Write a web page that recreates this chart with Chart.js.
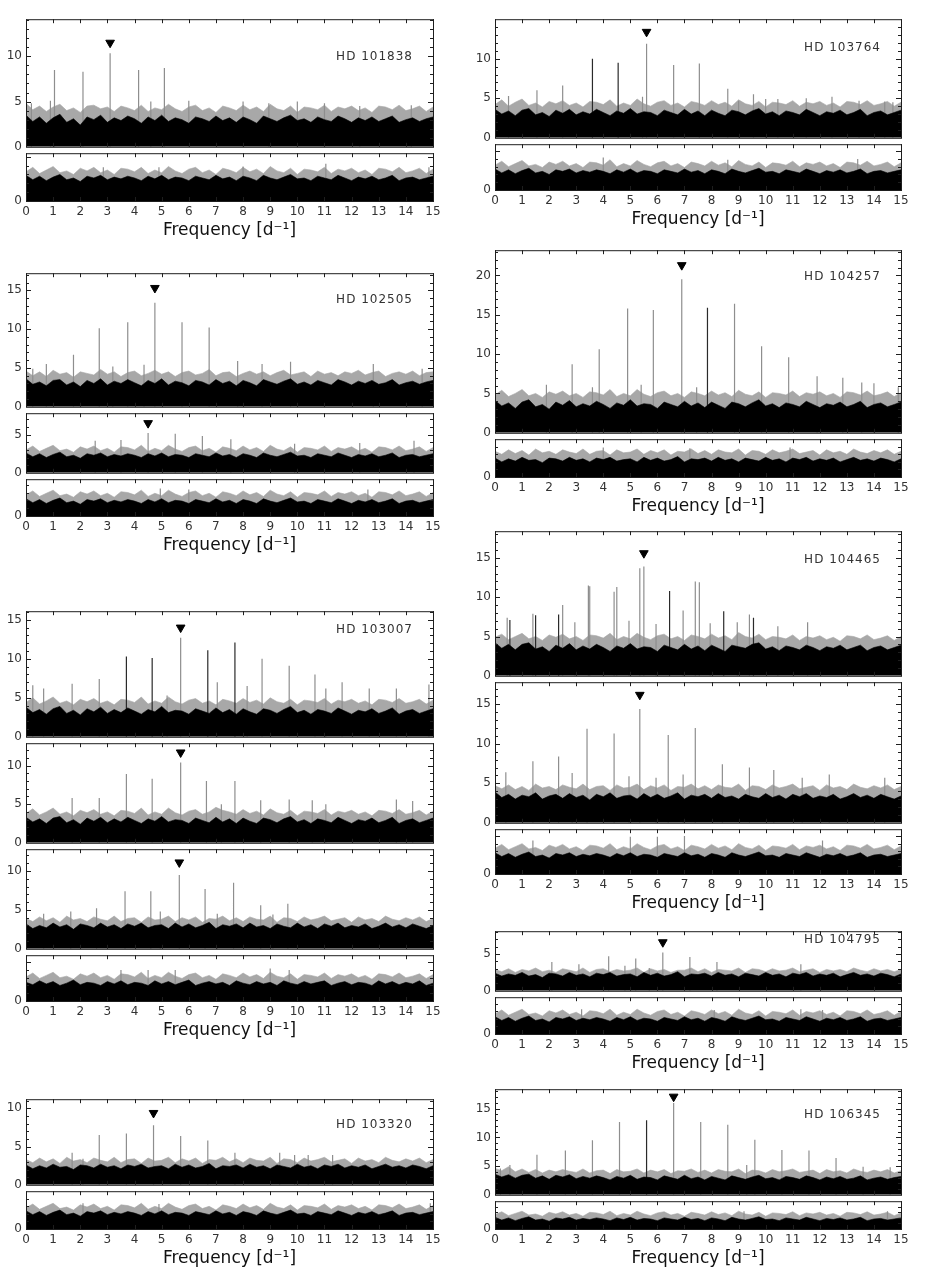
<!DOCTYPE html>
<html>
<head>
<meta charset="utf-8">
<script src="https://cdn.jsdelivr.net/npm/chart.js@4.4.0/dist/chart.umd.min.js"></script>
<style>
  body { margin: 0; background: #fff; }
  #fig { position: relative; width: 926px; height: 1280px; overflow: hidden; }
  #fig canvas { position: absolute; }
</style>
</head>
<body>
<div id="fig"></div>
<script>
// Frequency axis (d^-1) and labels
const FREQ_MIN = 0;
const FREQ_MAX = 15;
const X_TITLE = 'Frequency [d⁻¹]';

// Noise levels are read every 0.25 d^-1 from 0 to 15 (black band top, grey fringe top)
// Peaks are [frequency, amplitude]; "dark" lists the peaks drawn in black;
// marks are the triangles above the main peak

// HD 101838
const hd101838_p1_noise = [3.5,2.8,3.3,2.6,3.2,3.6,2.7,3.1,2.4,3.3, 3.0,3.5,2.7,3.2,2.9,3.4,3.1,2.6,3.3,2.9, 3.5,2.8,3.2,3.0,2.6,3.3,3.1,2.8,3.4,2.9, 3.2,2.7,3.3,3.0,2.6,3.4,3.1,2.8,3.2,3.5, 2.9,3.1,2.7,3.3,3.0,2.8,3.4,3.1,2.7,3.2, 2.9,3.3,2.8,3.1,3.4,2.7,3.0,3.2,2.8,3.1, 3.3];
const hd101838_p1_grass = [4.8,4.1,4.5,3.9,4.4,4.7,4.0,4.3,3.8,4.5, 4.6,4.2,4.4,3.9,4.5,4.3,4.0,4.6,3.9,4.3, 4.1,4.7,4.2,3.9,4.4,4.6,4.0,4.3,3.8,4.5, 4.3,4.0,4.6,4.1,4.4,3.9,4.7,4.2,4.0,4.5, 3.8,4.4,4.3,4.1,4.6,3.9,4.4,4.2,4.5,4.0, 4.3,3.8,4.5,4.4,4.1,4.6,4.0,4.2,4.5,3.9, 4.4];
const hd101838_p1_peaks = [[0.2,4.8],[0.9,5.1],[1.05,8.5],[2.1,8.3],[3.1,10.35],[4.15,8.5],[4.6,5.0],[5.1,8.7],[6.0,5.1],[8.0,5.0],[8.95,4.8],[10.0,5.0],[11.0,4.8],[12.3,4.5],[14.2,4.6]];
const hd101838_p1_mark = [3.1, 11.5];
const hd101838_p2_noise = [2.9,2.4,2.8,2.3,2.7,3.0,2.4,2.6,2.2,2.8, 2.6,2.9,2.4,2.7,2.5,2.8,2.6,2.3,2.8,2.5, 2.9,2.4,2.7,2.6,2.3,2.8,2.6,2.4,2.9,2.5, 2.7,2.3,2.8,2.6,2.3,2.9,2.6,2.4,2.7,3.0, 2.5,2.6,2.3,2.8,2.6,2.4,2.9,2.6,2.3,2.7, 2.5,2.8,2.4,2.6,2.9,2.3,2.6,2.7,2.4,2.6, 2.8];
const hd101838_p2_grass = [3.3,3.8,3.1,3.5,3.9,3.2,3.4,3.0,3.7,3.4, 3.8,3.2,3.5,3.0,3.7,3.6,3.3,3.8,3.1,3.5, 3.2,3.9,3.4,3.1,3.6,3.8,3.2,3.5,3.0,3.7, 3.5,3.2,3.8,3.3,3.6,3.1,3.9,3.4,3.2,3.7, 3.0,3.6,3.5,3.3,3.8,3.1,3.6,3.4,3.7,3.2, 3.5,3.0,3.7,3.6,3.3,3.8,3.2,3.4,3.7,3.1, 3.6];
const hd101838_p2_peaks = [[2.85,3.8],[4.9,3.8],[8.0,3.9],[11.05,4.2],[14.85,3.8]];

// HD 103764
const hd103764_p1_noise = [3.6,3.0,3.4,2.8,3.5,3.7,2.9,3.2,2.7,3.5, 3.1,3.6,2.9,3.3,3.0,3.6,3.2,2.8,3.4,3.1, 3.7,3.0,3.3,3.2,2.8,3.5,3.2,2.9,3.6,3.0, 3.4,2.8,3.5,3.1,2.8,3.5,3.3,2.9,3.4,3.7, 3.0,3.3,2.8,3.4,3.2,2.9,3.6,3.2,2.8,3.3, 3.1,3.5,2.9,3.2,3.6,2.8,3.2,3.4,2.9,3.2, 3.5];
const hd103764_p1_grass = [4.2,4.8,4.0,4.5,4.9,4.1,4.4,3.9,4.6,4.3, 4.7,4.1,4.4,3.9,4.6,4.5,4.2,4.8,4.0,4.4, 4.1,4.9,4.3,4.0,4.5,4.7,4.1,4.4,3.9,4.6, 4.4,4.1,4.7,4.2,4.5,4.0,4.8,4.3,4.1,4.6, 3.9,4.5,4.4,4.2,4.7,4.0,4.5,4.3,4.6,4.1, 4.4,3.9,4.6,4.5,4.2,4.7,4.1,4.3,4.6,4.0, 4.5];
const hd103764_p1_peaks = [[0.5,5.3],[1.55,6.0],[2.5,6.6],[3.6,10.0],[4.55,9.5],[5.45,5.2],[5.6,11.9],[6.6,9.2],[7.55,9.4],[8.6,6.2],[9.0,4.7],[9.55,5.5],[10.0,4.9],[10.45,4.9],[11.5,5.0],[12.45,5.2],[13.45,4.7],[14.4,4.6],[14.7,4.5]];
const hd103764_p1_dark = [3.6, 4.55];
const hd103764_p1_mark = [5.6, 13.4];
const hd103764_p2_noise = [2.7,2.2,2.6,2.1,2.5,2.8,2.2,2.4,2.0,2.6, 2.4,2.7,2.2,2.5,2.3,2.6,2.4,2.1,2.6,2.3, 2.7,2.2,2.5,2.4,2.1,2.6,2.4,2.2,2.7,2.3, 2.5,2.1,2.6,2.4,2.1,2.7,2.4,2.2,2.5,2.8, 2.3,2.4,2.1,2.6,2.4,2.2,2.7,2.4,2.1,2.5, 2.3,2.6,2.2,2.4,2.7,2.1,2.4,2.5,2.2,2.4, 2.6];
const hd103764_p2_grass = [3.2,3.7,3.0,3.4,3.8,3.1,3.3,2.9,3.6,3.3, 3.7,3.1,3.4,2.9,3.6,3.5,3.2,3.9,3.0,3.4, 3.1,3.8,3.3,3.0,3.5,3.7,3.1,3.4,2.9,3.6, 3.4,3.1,3.7,3.2,3.5,3.0,3.8,3.3,3.1,3.6, 2.9,3.5,3.4,3.2,3.7,3.0,3.5,3.3,3.6,3.1, 3.4,2.9,3.6,3.5,3.2,3.7,3.1,3.3,3.6,3.0, 3.5];
const hd103764_p2_peaks = [[4.0,4.2],[8.6,3.9],[13.4,4.0]];

// HD 102505
const hd102505_p1_noise = [3.6,2.9,3.2,2.7,3.4,3.5,2.8,3.2,2.6,3.4, 3.0,3.6,2.8,3.3,3.0,3.5,3.1,2.7,3.4,3.0, 3.6,2.8,3.3,3.1,2.7,3.4,3.2,2.8,3.5,3.0, 3.3,2.7,3.4,3.1,2.7,3.5,3.2,2.9,3.3,3.6, 2.9,3.2,2.8,3.4,3.1,2.8,3.5,3.2,2.8,3.3, 3.0,3.4,2.9,3.1,3.5,2.8,3.1,3.3,2.9,3.2, 3.4];
const hd102505_p1_grass = [4.6,4.0,4.5,3.9,4.7,4.2,4.4,3.8,4.5,4.3, 4.1,4.8,4.2,4.5,3.9,4.4,4.6,4.0,4.3,4.7, 4.2,4.5,3.9,4.4,4.6,4.1,4.3,4.8,4.0,4.4, 4.5,3.9,4.3,4.6,4.2,4.5,4.0,4.4,4.7,4.1, 4.3,4.5,3.9,4.6,4.2,4.4,4.0,4.5,4.3,4.7, 4.1,4.4,4.6,3.9,4.3,4.5,4.2,4.6,4.0,4.4, 4.5];
const hd102505_p1_peaks = [[0.25,4.9],[0.75,5.5],[1.75,6.7],[2.7,10.1],[3.2,5.2],[3.75,10.9],[4.35,5.4],[4.75,13.4],[5.75,10.9],[6.75,10.2],[7.8,5.9],[8.7,5.5],[9.75,5.8],[12.8,5.5],[14.6,4.9]];
const hd102505_p1_mark = [4.75, 15.3];
const hd102505_p2_noise = [2.6,2.1,2.5,2.0,2.4,2.7,2.1,2.3,1.9,2.5, 2.3,2.6,2.1,2.4,2.2,2.5,2.3,2.0,2.5,2.2, 2.6,2.1,2.4,2.3,2.0,2.5,2.3,2.1,2.6,2.2, 2.4,2.0,2.5,2.3,2.0,2.6,2.3,2.1,2.4,2.7, 2.2,2.3,2.0,2.5,2.3,2.1,2.6,2.3,2.0,2.4, 2.2,2.5,2.1,2.3,2.6,2.0,2.3,2.4,2.1,2.3, 2.5];
const hd102505_p2_grass = [3.0,3.5,2.8,3.2,3.6,2.9,3.1,2.7,3.4,3.1, 3.5,2.9,3.2,2.7,3.4,3.3,3.0,3.6,2.8,3.2, 2.9,3.6,3.1,2.8,3.3,3.5,2.9,3.2,2.7,3.4, 3.2,2.9,3.5,3.0,3.3,2.8,3.6,3.1,2.9,3.4, 2.7,3.3,3.2,3.0,3.5,2.8,3.3,3.1,3.4,2.9, 3.2,2.7,3.4,3.3,3.0,3.5,2.9,3.1,3.4,2.8, 3.3];
const hd102505_p2_peaks = [[2.55,4.2],[3.5,4.3],[4.5,5.2],[5.5,5.1],[6.5,4.8],[7.55,4.4],[9.9,3.8],[12.3,3.9],[14.3,4.2]];
const hd102505_p2_mark = [4.5, 6.5];
const hd102505_p3_noise = [2.2,1.7,2.1,1.6,2.0,2.3,1.7,1.9,1.5,2.1, 1.9,2.2,1.7,2.0,1.8,2.1,1.9,1.6,2.1,1.8, 2.2,1.7,2.0,1.9,1.6,2.1,1.9,1.7,2.2,1.8, 2.0,1.6,2.1,1.9,1.6,2.2,1.9,1.7,2.0,2.3, 1.8,1.9,1.6,2.1,1.9,1.7,2.2,1.9,1.6,2.0, 1.8,2.1,1.7,1.9,2.2,1.6,1.9,2.0,1.7,1.9, 2.1];
const hd102505_p3_grass = [2.7,3.2,2.5,2.9,3.3,2.6,2.8,2.4,3.1,2.8, 3.2,2.6,2.9,2.4,3.1,3.0,2.7,3.3,2.5,2.9, 2.6,3.3,2.8,2.5,3.0,3.2,2.6,2.9,2.4,3.1, 2.9,2.6,3.2,2.7,3.0,2.5,3.3,2.8,2.6,3.1, 2.4,3.0,2.9,2.7,3.2,2.5,3.0,2.8,3.1,2.6, 2.9,2.4,3.1,3.0,2.7,3.2,2.6,2.8,3.1,2.5, 3.0];
const hd102505_p3_peaks = [[4.95,3.5],[6.0,3.4],[12.6,3.4]];

// HD 104257
const hd104257_p1_noise = [4.1,3.4,3.8,3.1,3.9,4.2,3.3,3.6,3.0,3.9, 3.5,4.1,3.3,3.7,3.4,4.0,3.6,3.1,3.8,3.5, 4.2,3.4,3.7,3.6,3.1,3.9,3.6,3.3,4.0,3.4, 3.8,3.2,3.9,3.5,3.1,3.9,3.7,3.3,3.8,4.2, 3.4,3.7,3.2,3.8,3.6,3.3,4.0,3.6,3.2,3.7, 3.5,3.9,3.3,3.6,4.0,3.2,3.6,3.8,3.3,3.6, 3.9];
const hd104257_p1_grass = [4.8,5.4,4.6,5.0,5.5,4.7,5.0,4.5,5.2,4.9, 5.3,4.7,5.0,4.5,5.2,5.1,4.8,5.5,4.6,5.0, 4.7,5.5,4.9,4.6,5.1,5.3,4.7,5.0,4.5,5.2, 5.0,4.7,5.3,4.8,5.1,4.6,5.4,4.9,4.7,5.2, 4.5,5.1,5.0,4.8,5.3,4.6,5.1,4.9,5.2,4.7, 5.0,4.5,5.2,5.1,4.8,5.3,4.7,4.9,5.2,4.6, 5.1];
const hd104257_p1_peaks = [[1.9,6.1],[2.85,8.7],[3.6,5.8],[3.85,10.6],[4.9,15.8],[5.4,6.1],[5.85,15.6],[6.9,19.5],[7.45,5.8],[7.85,15.9],[8.85,16.4],[9.85,11.0],[10.85,9.6],[11.9,7.2],[12.85,7.0],[13.55,6.4],[14.0,6.3],[14.9,5.8]];
const hd104257_p1_dark = [7.85];
const hd104257_p1_mark = [6.9, 21.3];
const hd104257_p2_noise = [2.5,2.0,2.4,2.1,2.6,2.2,2.3,1.9,2.5,2.4, 2.1,2.6,2.2,2.4,2.0,2.5,2.3,2.6,2.1,2.3, 2.4,2.0,2.6,2.2,2.5,2.1,2.3,2.7,2.0,2.4, 2.3,2.5,2.1,2.6,2.2,2.4,2.0,2.5,2.3,2.1, 2.6,2.2,2.4,2.0,2.5,2.3,2.6,2.1,2.4,2.2, 2.5,2.0,2.3,2.6,2.2,2.4,2.1,2.5,2.3,2.0, 2.4];
const hd104257_p2_grass = [3.4,3.0,3.6,3.1,3.5,2.9,3.7,3.2,3.4,3.0, 3.6,3.3,3.1,3.7,3.0,3.4,3.5,2.9,3.6,3.2, 3.3,3.7,3.0,3.5,3.2,3.6,2.9,3.4,3.3,3.7, 3.1,3.5,3.0,3.6,3.3,3.2,3.7,2.9,3.5,3.4, 3.0,3.6,3.2,3.4,3.7,3.1,3.3,3.5,2.9,3.6, 3.2,3.4,3.0,3.7,3.3,3.1,3.5,3.2,3.6,3.0, 3.4];
const hd104257_p2_peaks = [[4.0,3.9],[7.2,3.8],[10.9,3.9]];

// HD 103007
const hd103007_p1_noise = [3.8,3.1,3.5,2.9,3.6,3.9,3.0,3.4,2.8,3.6, 3.2,3.8,3.0,3.5,3.1,3.7,3.3,2.9,3.5,3.2, 3.9,3.1,3.4,3.3,2.9,3.6,3.3,3.0,3.7,3.1, 3.5,2.9,3.6,3.2,2.9,3.6,3.4,3.0,3.5,3.9, 3.1,3.4,2.9,3.5,3.3,3.0,3.7,3.3,2.9,3.4, 3.2,3.6,3.0,3.3,3.7,2.9,3.3,3.5,3.0,3.3, 3.6];
const hd103007_p1_grass = [4.4,5.0,4.2,4.6,5.1,4.3,4.6,4.1,4.8,4.5, 4.9,4.3,4.6,4.1,4.8,4.7,4.4,5.1,4.2,4.6, 4.3,5.1,4.5,4.2,4.7,4.9,4.3,4.6,4.1,4.8, 4.6,4.3,4.9,4.4,4.7,4.2,5.0,4.5,4.3,4.8, 4.1,4.7,4.6,4.4,4.9,4.2,4.7,4.5,4.8,4.3, 4.6,4.1,4.8,4.7,4.4,4.9,4.3,4.5,4.8,4.2, 4.7];
const hd103007_p1_peaks = [[0.25,6.6],[0.65,6.2],[1.7,6.8],[2.7,7.4],[3.7,10.3],[4.65,10.1],[5.2,5.3],[5.7,12.7],[6.7,11.1],[7.05,7.0],[7.7,12.1],[8.15,6.5],[8.7,10.0],[9.7,9.1],[10.65,8.0],[11.05,6.2],[11.65,7.0],[12.65,6.2],[13.65,6.2],[14.85,6.7]];
const hd103007_p1_dark = [3.7, 4.65, 6.7, 7.7];
const hd103007_p1_mark = [5.7, 14.0];
const hd103007_p2_noise = [3.3,2.7,3.1,2.5,3.2,3.4,2.6,3.0,2.4,3.2, 2.8,3.3,2.6,3.1,2.7,3.3,2.9,2.5,3.1,2.8, 3.4,2.7,3.0,2.9,2.5,3.2,2.9,2.6,3.3,2.7, 3.1,2.5,3.2,2.8,2.5,3.2,3.0,2.6,3.1,3.4, 2.7,3.0,2.5,3.1,2.9,2.6,3.3,2.9,2.5,3.0, 2.8,3.2,2.6,2.9,3.3,2.5,2.9,3.1,2.6,2.9, 3.2];
const hd103007_p2_grass = [3.8,4.4,3.6,4.0,4.5,3.7,4.0,3.5,4.2,3.9, 4.3,3.7,4.0,3.5,4.2,4.1,3.8,4.5,3.6,4.0, 3.7,4.5,3.9,3.6,4.1,4.3,3.7,4.0,4.6,4.2, 4.0,3.7,4.3,3.8,4.1,3.6,4.4,3.9,3.7,4.2, 3.5,4.1,4.0,3.8,4.3,3.6,4.1,3.9,4.2,3.7, 4.0,3.5,4.2,4.1,3.8,4.3,3.7,3.9,4.2,3.6, 4.1];
const hd103007_p2_peaks = [[1.7,5.8],[2.7,5.8],[3.7,8.9],[4.65,8.3],[5.7,10.4],[6.65,8.0],[7.2,5.0],[7.7,8.0],[8.65,5.5],[9.7,5.6],[10.55,5.5],[11.05,5.0],[13.65,5.6],[14.25,5.4]];
const hd103007_p2_mark = [5.7, 11.7];
const hd103007_p3_noise = [3.2,2.6,3.0,2.7,3.3,2.8,3.1,2.5,3.2,3.0, 2.7,3.3,2.8,3.1,2.6,3.2,2.9,3.3,2.7,3.0, 3.1,2.6,3.3,2.8,3.2,2.7,3.0,3.4,2.6,3.1, 2.9,3.2,2.7,3.3,2.8,3.0,2.6,3.2,2.9,2.7, 3.3,2.8,3.1,2.6,3.2,2.9,3.3,2.7,3.0,2.8, 3.2,2.6,2.9,3.3,2.8,3.1,2.7,3.2,2.9,2.6, 3.0];
const hd103007_p3_grass = [3.9,3.5,4.1,3.6,4.0,3.4,4.2,3.7,3.9,3.5, 4.1,3.8,3.6,4.2,3.5,3.9,4.0,3.4,4.1,3.7, 3.8,4.2,3.5,4.0,3.7,4.1,3.4,3.9,3.8,4.2, 3.6,4.0,3.5,4.1,3.8,3.7,4.2,3.4,4.0,3.9, 3.5,4.1,3.7,3.9,4.2,3.6,3.8,4.0,3.4,4.1, 3.7,3.9,3.5,4.2,3.8,3.6,4.0,3.7,4.1,3.5, 3.9];
const hd103007_p3_peaks = [[0.65,4.5],[1.65,4.8],[2.6,5.2],[3.65,7.4],[4.6,7.4],[4.95,4.8],[5.65,9.5],[6.6,7.7],[7.05,4.5],[7.65,8.5],[8.65,5.6],[9.1,4.4],[9.65,5.8]];
const hd103007_p3_mark = [5.65, 11.1];
const hd103007_p4_noise = [2.4,2.1,2.6,2.2,2.5,2.0,2.3,2.7,2.1,2.4, 2.3,2.0,2.5,2.2,2.6,2.1,2.4,2.3,2.0,2.6, 2.2,2.5,2.1,2.4,2.7,2.0,2.3,2.5,2.2,2.4, 2.0,2.6,2.3,2.1,2.5,2.2,2.4,2.0,2.6,2.3, 2.1,2.5,2.2,2.4,2.6,2.0,2.3,2.5,2.1,2.4, 2.3,2.0,2.6,2.2,2.5,2.1,2.4,2.2,2.6,2.0, 2.3];
const hd103007_p4_grass = [3.1,3.6,2.9,3.3,3.7,3.0,3.2,2.8,3.5,3.2, 3.6,3.0,3.3,2.8,3.5,3.4,3.1,3.7,2.9,3.3, 3.0,3.7,3.2,2.9,3.4,3.6,3.0,3.3,2.8,3.5, 3.3,3.0,3.6,3.1,3.4,2.9,3.7,3.2,3.0,3.5, 2.8,3.4,3.3,3.1,3.6,2.9,3.4,3.2,3.5,3.0, 3.3,2.8,3.5,3.4,3.1,3.6,3.0,3.2,3.5,2.9, 3.4];
const hd103007_p4_peaks = [[3.5,4.0],[4.5,4.0],[5.5,4.0],[9.0,4.2],[9.7,4.0]];

// HD 104465
const hd104465_p1_noise = [4.2,3.5,4.0,3.3,4.0,4.2,3.4,3.7,3.1,3.9, 3.5,4.1,3.3,3.8,3.4,4.0,3.6,3.1,3.8,3.5, 4.1,3.4,3.7,3.6,3.1,3.9,3.6,3.3,4.0,3.4, 3.8,3.2,3.9,3.5,3.1,3.9,3.7,3.5,4.0,4.2, 3.4,3.7,3.2,3.8,3.6,3.3,3.9,3.6,3.2,3.7, 3.5,3.9,3.3,3.6,3.9,3.2,3.6,3.8,3.3,3.6, 3.9];
const hd104465_p1_grass = [4.9,5.3,4.6,5.0,5.4,4.7,5.0,4.5,5.2,4.9, 5.3,4.7,5.0,4.5,5.2,5.1,4.8,5.4,4.6,5.0, 4.7,5.4,4.9,4.6,5.1,5.3,4.7,5.0,4.5,5.2, 5.0,4.7,5.3,4.8,5.1,4.6,5.5,5.0,4.8,5.3, 4.6,5.0,4.9,4.7,5.2,4.5,5.0,4.8,5.1,4.6, 4.9,4.4,5.1,5.0,4.7,5.2,4.6,4.8,5.1,4.5, 5.0];
const hd104465_p1_peaks = [[0.45,7.4],[0.55,7.1],[1.4,7.9],[1.5,7.7],[2.35,7.8],[2.5,9.0],[2.95,6.8],[3.45,11.5],[3.5,11.4],[4.4,10.7],[4.5,11.3],[4.95,7.0],[5.35,13.7],[5.5,13.9],[5.95,6.6],[6.45,10.8],[6.95,8.3],[7.4,12.0],[7.55,11.9],[7.95,6.7],[8.45,8.2],[8.95,6.8],[9.4,7.8],[9.55,7.4],[10.45,6.3],[11.55,6.8]];
const hd104465_p1_dark = [0.55, 1.5, 2.35, 6.45, 8.45, 9.55];
const hd104465_p1_mark = [5.5, 15.6];
const hd104465_p2_noise = [3.9,3.2,3.6,3.0,3.5,3.3,3.8,3.0,3.4,3.6, 3.1,3.7,3.2,3.5,2.9,3.6,3.3,3.8,3.1,3.4, 3.5,3.0,3.7,3.2,3.6,3.1,3.4,3.8,3.0,3.5, 3.3,3.6,3.1,3.7,3.2,3.4,3.0,3.6,3.3,3.1, 3.7,3.2,3.5,3.0,3.6,3.3,3.7,3.1,3.4,3.2, 3.6,3.0,3.3,3.7,3.2,3.5,3.1,3.6,3.3,3.0, 3.4];
const hd104465_p2_grass = [4.7,4.3,4.8,4.2,4.6,4.1,4.9,4.4,4.6,4.2, 4.8,4.5,4.3,4.9,4.2,4.6,4.7,4.1,4.8,4.4, 4.5,4.9,4.2,4.7,4.4,4.8,4.1,4.6,4.5,4.9, 4.3,4.7,4.2,4.8,4.5,4.4,4.9,4.1,4.7,4.6, 4.2,4.8,4.4,4.6,4.9,4.3,4.5,4.7,4.1,4.8, 4.4,4.6,4.2,4.9,4.5,4.3,4.7,4.4,4.8,4.2, 4.6];
const hd104465_p2_peaks = [[0.4,6.4],[1.4,7.8],[2.35,8.4],[2.85,6.3],[3.4,11.9],[4.4,11.3],[4.95,5.9],[5.35,14.4],[5.95,5.7],[6.4,11.1],[6.95,6.1],[7.4,12.0],[8.4,7.4],[9.4,7.0],[10.3,6.7],[11.35,5.7],[12.35,6.1],[14.4,5.7]];
const hd104465_p2_mark = [5.35, 16.2];
const hd104465_p3_noise = [2.8,2.3,2.7,2.2,2.6,2.9,2.3,2.5,2.1,2.7, 2.5,2.8,2.3,2.6,2.4,2.7,2.5,2.2,2.7,2.4, 2.8,2.3,2.6,2.5,2.2,2.7,2.5,2.3,2.8,2.4, 2.6,2.2,2.7,2.5,2.2,2.8,2.5,2.3,2.6,2.9, 2.4,2.5,2.2,2.7,2.5,2.3,2.8,2.5,2.2,2.6, 2.4,2.7,2.3,2.5,2.8,2.2,2.5,2.6,2.3,2.5, 2.7];
const hd104465_p3_grass = [3.4,3.9,3.2,3.6,4.0,3.3,3.5,3.1,3.8,3.5, 3.9,3.3,3.6,3.1,3.8,3.7,3.4,4.0,3.2,3.6, 3.3,4.0,3.5,3.2,3.7,3.9,3.3,3.6,3.1,3.8, 3.6,3.3,3.9,3.4,3.7,3.2,4.0,3.5,3.3,3.8, 3.1,3.7,3.6,3.4,3.9,3.2,3.7,3.5,3.8,3.3, 3.6,3.1,3.8,3.7,3.4,3.9,3.3,3.5,3.8,3.2, 3.7];
const hd104465_p3_peaks = [[1.4,4.4],[5.0,4.9],[6.0,4.9],[7.0,5.0],[12.1,4.4]];

// HD 103320
const hd103320_p1_noise = [2.6,2.1,2.5,2.2,2.7,2.3,2.4,2.0,2.6,2.5, 2.2,2.7,2.3,2.5,2.1,2.6,2.4,2.7,2.2,2.4, 2.5,2.1,2.7,2.3,2.6,2.2,2.4,2.8,2.1,2.5, 2.4,2.6,2.2,2.7,2.3,2.5,2.1,2.6,2.4,2.2, 2.7,2.3,2.5,2.1,2.6,2.4,2.7,2.2,2.5,2.3, 2.6,2.1,2.4,2.7,2.3,2.5,2.2,2.6,2.4,2.1, 2.5];
const hd103320_p1_grass = [3.3,2.9,3.5,3.0,3.4,2.8,3.6,3.1,3.3,2.9, 3.5,3.2,3.0,3.6,2.9,3.3,3.4,2.8,3.5,3.1, 3.2,3.6,2.9,3.4,3.1,3.5,2.8,3.3,3.2,3.6, 3.0,3.4,2.9,3.5,3.2,3.1,3.6,2.8,3.4,3.3, 2.9,3.5,3.1,3.3,3.6,3.0,3.2,3.4,2.8,3.5, 3.1,3.3,2.9,3.6,3.2,3.0,3.4,3.1,3.5,2.9, 3.3];
const hd103320_p1_peaks = [[1.7,4.2],[2.1,3.4],[2.7,6.5],[3.7,6.7],[4.7,7.8],[5.7,6.4],[6.7,5.8],[7.7,4.2],[9.35,4.2],[9.9,3.9],[10.4,3.9],[11.3,3.9]];
const hd103320_p1_mark = [4.7, 9.4];
const hd103320_p2_noise = [2.4,1.9,2.3,1.8,2.2,2.5,1.9,2.1,1.7,2.3, 2.1,2.4,1.9,2.2,2.0,2.3,2.1,1.8,2.3,2.0, 2.4,1.9,2.2,2.1,1.8,2.3,2.1,1.9,2.4,2.0, 2.2,1.8,2.3,2.1,1.8,2.4,2.1,1.9,2.2,2.5, 2.0,2.1,1.8,2.3,2.1,1.9,2.4,2.1,1.8,2.2, 2.0,2.3,1.9,2.1,2.4,1.8,2.1,2.2,1.9,2.1, 2.3];
const hd103320_p2_grass = [2.8,3.3,2.6,3.0,3.4,2.7,2.9,2.5,3.2,2.9, 3.3,2.7,3.0,2.5,3.2,3.1,2.8,3.4,2.6,3.0, 2.7,3.4,2.9,2.6,3.1,3.3,2.7,3.0,2.5,3.2, 3.0,2.7,3.3,2.8,3.1,2.6,3.4,2.9,2.7,3.2, 2.5,3.1,3.0,2.8,3.3,2.6,3.1,2.9,3.2,2.7, 3.0,2.5,3.2,3.1,2.8,3.3,2.7,2.9,3.2,2.6, 3.1];
const hd103320_p2_peaks = [[2.1,3.4],[4.9,3.3],[14.9,3.4]];

// HD 104795
const hd104795_p1_noise = [2.4,2.0,2.3,2.1,2.5,2.0,2.2,1.8,2.4,2.3, 2.0,2.5,2.1,2.3,1.9,2.4,2.2,2.5,2.0,2.2, 2.3,1.9,2.5,2.1,2.4,2.0,2.2,2.6,1.9,2.3, 2.2,2.4,2.0,2.5,2.1,2.3,1.9,2.4,2.2,2.0, 2.5,2.1,2.3,1.9,2.4,2.2,2.5,2.0,2.3,2.1, 2.4,1.9,2.2,2.5,2.1,2.3,2.0,2.4,2.2,1.9, 2.3];
const hd104795_p1_grass = [2.9,2.6,3.0,2.5,2.9,2.7,3.1,2.6,2.8,2.5, 3.0,2.8,2.6,3.1,2.5,2.9,3.0,2.6,2.9,2.7, 2.8,3.1,2.5,3.0,2.7,2.9,2.5,2.8,2.8,3.1, 2.6,3.0,2.5,2.9,2.8,2.7,3.1,2.5,3.0,2.9, 2.6,3.0,2.7,2.8,3.1,2.6,2.8,3.0,2.5,2.9, 2.7,2.9,2.6,3.1,2.8,2.6,3.0,2.7,2.9,2.6, 2.9];
const hd104795_p1_peaks = [[2.1,3.9],[3.1,3.6],[4.2,4.7],[4.8,3.4],[5.2,4.4],[5.7,3.1],[6.2,5.2],[7.2,4.6],[8.2,3.9],[11.3,3.6]];
const hd104795_p1_mark = [6.2, 6.6];
const hd104795_p2_noise = [2.3,1.8,2.2,1.7,2.1,2.4,1.8,2.0,1.6,2.2, 2.0,2.3,1.8,2.1,1.9,2.2,2.0,1.7,2.2,1.9, 2.3,1.8,2.1,2.0,1.7,2.2,2.0,1.8,2.3,1.9, 2.1,1.7,2.2,2.0,1.7,2.3,2.0,1.8,2.1,2.4, 1.9,2.0,1.7,2.2,2.0,1.8,2.3,2.0,1.7,2.1, 1.9,2.2,1.8,2.0,2.3,1.7,2.0,2.1,1.8,2.0, 2.2];
const hd104795_p2_grass = [2.7,3.2,2.5,2.9,3.3,2.6,2.8,2.4,3.1,2.8, 3.2,2.6,2.9,2.4,3.1,3.0,2.7,3.3,2.5,2.9, 2.6,3.3,2.8,2.5,3.0,3.2,2.6,2.9,2.4,3.1, 2.9,2.6,3.2,2.7,3.0,2.5,3.3,2.8,2.6,3.1, 2.4,3.0,2.9,2.7,3.2,2.5,3.0,2.8,3.1,2.6, 2.9,2.4,3.1,3.0,2.7,3.2,2.6,2.8,3.1,2.5, 3.0];
const hd104795_p2_peaks = [[3.2,3.3],[8.1,3.2],[11.3,3.3],[12.1,3.2]];

// HD 106345
const hd106345_p1_noise = [3.6,3.1,3.5,2.9,3.4,3.6,2.9,3.3,2.7,3.4, 3.1,3.5,2.8,3.2,2.9,3.3,3.0,2.6,3.2,2.9, 3.4,2.7,3.1,3.0,2.6,3.3,3.0,2.7,3.4,2.8, 3.1,2.6,3.2,2.9,2.6,3.3,3.0,2.7,3.1,3.4, 2.8,3.0,2.6,3.2,3.0,2.7,3.3,3.0,2.6,3.1, 2.8,3.2,2.7,2.9,3.3,2.6,2.9,3.1,2.7,3.0, 3.2];
const hd106345_p1_grass = [4.6,4.2,4.9,4.0,4.5,3.9,4.4,3.8,4.3,4.0, 4.4,4.1,3.9,4.5,3.8,4.2,4.3,3.7,4.4,4.0, 4.1,4.5,3.8,4.3,4.0,4.4,3.7,4.2,4.1,4.5, 3.9,4.3,3.8,4.4,4.1,4.0,4.5,3.7,4.3,4.2, 3.8,4.4,4.0,4.2,4.5,3.9,4.1,4.3,3.7,4.4, 4.0,4.2,3.8,4.5,4.1,3.9,4.3,4.0,4.4,3.8, 4.2];
const hd106345_p1_peaks = [[0.2,4.6],[0.55,5.2],[1.55,7.0],[2.6,7.7],[3.6,9.5],[4.6,12.7],[5.6,13.0],[6.6,16.0],[7.6,12.7],[8.6,12.2],[9.3,5.2],[9.6,9.6],[10.6,7.8],[11.6,7.7],[12.6,6.4],[13.6,4.9],[14.6,4.8]];
const hd106345_p1_dark = [5.6];
const hd106345_p1_mark = [6.6, 17.1];
const hd106345_p2_noise = [2.1,1.6,2.0,1.5,1.9,2.2,1.6,1.8,1.4,2.0, 1.8,2.1,1.6,1.9,1.7,2.0,1.8,1.5,2.0,1.7, 2.1,1.6,1.9,1.8,1.5,2.0,1.8,1.6,2.1,1.7, 1.9,1.5,2.0,1.8,1.5,2.1,1.8,1.6,1.9,2.2, 1.7,1.8,1.5,2.0,1.8,1.6,2.1,1.8,1.5,1.9, 1.7,2.0,1.6,1.8,2.1,1.5,1.8,1.9,1.6,1.8, 2.0];
const hd106345_p2_grass = [2.6,3.1,2.4,2.8,3.2,2.5,2.7,2.3,3.0,2.7, 3.1,2.5,2.8,2.3,3.0,2.9,2.6,3.2,2.4,2.8, 2.5,3.2,2.7,2.4,2.9,3.1,2.5,2.8,2.3,3.0, 2.8,2.5,3.1,2.6,2.9,2.4,3.2,2.7,2.5,3.0, 2.3,2.9,2.8,2.6,3.1,2.4,2.9,2.7,3.0,2.5, 2.8,2.3,3.0,2.9,2.6,3.1,2.5,2.7,3.0,2.4, 2.9];
const hd106345_p2_peaks = [[9.2,3.2],[14.5,3.2]];

// ---- layout (page pixels) ----
const YW = 30, PT = 8, PB = 8, PR = 12, XH = 40;
const COLS = { L: { x: 26, w: 407 }, R: { x: 495, w: 406 } };

const PANELS = [
  { col: 'L', top: 16, bottom: 150, ymax: 14.1, noise: hd101838_p1_noise, grass: hd101838_p1_grass, peaks: hd101838_p1_peaks, mark: hd101838_p1_mark, label: 'HD 101838', labelDy: 38 },
  { col: 'L', top: 150, bottom: 201, ymax: 5.4, noise: hd101838_p2_noise, grass: hd101838_p2_grass, peaks: hd101838_p2_peaks, axis: true },

  { col: 'R', top: 16, bottom: 141, ymax: 15, noise: hd103764_p1_noise, grass: hd103764_p1_grass, peaks: hd103764_p1_peaks, dark: hd103764_p1_dark, mark: hd103764_p1_mark, label: 'HD 103764', labelDy: 29 },
  { col: 'R', top: 141, bottom: 190, ymax: 5.9, noise: hd103764_p2_noise, grass: hd103764_p2_grass, peaks: hd103764_p2_peaks, axis: true },

  { col: 'L', top: 270, bottom: 410, ymax: 17.2, noise: hd102505_p1_noise, grass: hd102505_p1_grass, peaks: hd102505_p1_peaks, mark: hd102505_p1_mark, label: 'HD 102505', labelDy: 27 },
  { col: 'L', top: 410, bottom: 476, ymax: 7.8, noise: hd102505_p2_noise, grass: hd102505_p2_grass, peaks: hd102505_p2_peaks, mark: hd102505_p2_mark },
  { col: 'L', top: 476, bottom: 516, ymax: 4.7, noise: hd102505_p3_noise, grass: hd102505_p3_grass, peaks: hd102505_p3_peaks, axis: true },

  { col: 'R', top: 247, bottom: 436, ymax: 23.2, noise: hd104257_p1_noise, grass: hd104257_p1_grass, peaks: hd104257_p1_peaks, dark: hd104257_p1_dark, mark: hd104257_p1_mark, label: 'HD 104257', labelDy: 27 },
  { col: 'R', top: 436, bottom: 477, ymax: 5.0, noise: hd104257_p2_noise, grass: hd104257_p2_grass, peaks: hd104257_p2_peaks, axis: true },

  { col: 'L', top: 608, bottom: 740, ymax: 16.1, noise: hd103007_p1_noise, grass: hd103007_p1_grass, peaks: hd103007_p1_peaks, dark: hd103007_p1_dark, mark: hd103007_p1_mark, label: 'HD 103007', labelDy: 19 },
  { col: 'L', top: 740, bottom: 846, ymax: 12.9, noise: hd103007_p2_noise, grass: hd103007_p2_grass, peaks: hd103007_p2_peaks, mark: hd103007_p2_mark },
  { col: 'L', top: 846, bottom: 952, ymax: 12.8, noise: hd103007_p3_noise, grass: hd103007_p3_grass, peaks: hd103007_p3_peaks, mark: hd103007_p3_mark },
  { col: 'L', top: 952, bottom: 1001, ymax: 5.9, noise: hd103007_p4_noise, grass: hd103007_p4_grass, peaks: hd103007_p4_peaks, axis: true },

  { col: 'R', top: 528, bottom: 679, ymax: 18.4, noise: hd104465_p1_noise, grass: hd104465_p1_grass, peaks: hd104465_p1_peaks, dark: hd104465_p1_dark, mark: hd104465_p1_mark, label: 'HD 104465', labelDy: 29 },
  { col: 'R', top: 679, bottom: 826, ymax: 17.8, noise: hd104465_p2_noise, grass: hd104465_p2_grass, peaks: hd104465_p2_peaks, mark: hd104465_p2_mark },
  { col: 'R', top: 826, bottom: 874, ymax: 5.9, noise: hd104465_p3_noise, grass: hd104465_p3_grass, peaks: hd104465_p3_peaks, axis: true },

  { col: 'L', top: 1096, bottom: 1188, ymax: 11.2, noise: hd103320_p1_noise, grass: hd103320_p1_grass, peaks: hd103320_p1_peaks, mark: hd103320_p1_mark, label: 'HD 103320', labelDy: 26 },
  { col: 'L', top: 1188, bottom: 1229, ymax: 5.0, noise: hd103320_p2_noise, grass: hd103320_p2_grass, peaks: hd103320_p2_peaks, axis: true },

  { col: 'R', top: 928, bottom: 994, ymax: 8.1, noise: hd104795_p1_noise, grass: hd104795_p1_grass, peaks: hd104795_p1_peaks, mark: hd104795_p1_mark, label: 'HD 104795', labelDy: 9 },
  { col: 'R', top: 994, bottom: 1034, ymax: 4.9, noise: hd104795_p2_noise, grass: hd104795_p2_grass, peaks: hd104795_p2_peaks, axis: true },

  { col: 'R', top: 1086, bottom: 1198, ymax: 18.4, noise: hd106345_p1_noise, grass: hd106345_p1_grass, peaks: hd106345_p1_peaks, dark: hd106345_p1_dark, mark: hd106345_p1_mark, label: 'HD 106345', labelDy: 26 },
  { col: 'R', top: 1198, bottom: 1229, ymax: 5.0, noise: hd106345_p2_noise, grass: hd106345_p2_grass, peaks: hd106345_p2_peaks, axis: true }
];

const FONT = 'DejaVu Sans';
const TEXT_COLOR = '#333';

// frame, inward ticks and star name
const framePlugin = {
  id: 'frame',
  afterDatasetsDraw(chart, args, opts) {
    const { ctx, chartArea: a } = chart;
    const x = chart.scales.x, y = chart.scales.y;
    ctx.save();
    ctx.strokeStyle = '#1e1e1e';
    ctx.lineWidth = 1;
    ctx.beginPath();
    for (let f = FREQ_MIN; f <= FREQ_MAX; f++) {
      const px = Math.round(x.getPixelForValue(f)) + 0.5;
      ctx.moveTo(px, a.bottom); ctx.lineTo(px, a.bottom - 4);
      ctx.moveTo(px, a.top); ctx.lineTo(px, a.top + 4);
    }
    for (let v = 1; v < y.max; v++) {
      const py = Math.round(y.getPixelForValue(v)) + 0.5;
      const len = v % 5 === 0 ? 5 : 3;
      ctx.moveTo(a.left, py); ctx.lineTo(a.left + len, py);
      ctx.moveTo(a.right, py); ctx.lineTo(a.right - len, py);
    }
    ctx.stroke();
    ctx.strokeRect(a.left + 0.5, a.top + 0.5, a.right - a.left, a.bottom - a.top);
    if (opts.label) {
      ctx.fillStyle = TEXT_COLOR;
      ctx.font = '12px "' + FONT + '"';
      ctx.letterSpacing = '1px';
      ctx.textAlign = 'right';
      ctx.textBaseline = 'middle';
      ctx.fillText(opts.label, a.right - 20, a.top + opts.labelDy);
    }
    ctx.restore();
  }
};

function levelPoints(arr) {
  return arr.map((v, i) => ({ x: FREQ_MIN + (FREQ_MAX - FREQ_MIN) * i / (arr.length - 1), y: v }));
}

function peakPoints(peaks) {
  const pts = [];
  peaks.forEach(([f, a]) => {
    pts.push({ x: f, y: 0 }, { x: f, y: a }, { x: f, y: null });
  });
  return pts;
}

function drawPanel(p, fig) {
  const col = COLS[p.col];
  const h = p.bottom - p.top;
  const cw = YW + col.w + PR;
  const ch = PT + h + (p.axis ? XH : PB);
  const cv = document.createElement('canvas');
  cv.width = cw; cv.height = ch;
  cv.style.left = (col.x - YW) + 'px';
  cv.style.top = (p.top - PT) + 'px';
  cv.style.width = cw + 'px';
  cv.style.height = ch + 'px';
  fig.appendChild(cv);

  const dark = p.dark || [];
  const lightPeaks = p.peaks.filter(([f]) => !dark.includes(f));
  const darkPeaks = p.peaks.filter(([f]) => dark.includes(f));

  const datasets = [
    { data: levelPoints(p.grass), borderColor: '#a8a8a8', backgroundColor: '#a8a8a8', borderWidth: 0.6, fill: 'origin', pointRadius: 0, tension: 0, order: 5 },
    { data: peakPoints(lightPeaks), borderColor: '#8e8e8e', borderWidth: 1.2, fill: false, pointRadius: 0, spanGaps: false, order: 4 },
    { data: peakPoints(darkPeaks), borderColor: '#2a2a2a', borderWidth: 1.2, fill: false, pointRadius: 0, spanGaps: false, order: 3 },
    { data: levelPoints(p.noise), borderColor: '#000', backgroundColor: '#000', borderWidth: 0.6, fill: 'origin', pointRadius: 0, tension: 0, order: 2 }
  ];
  if (p.mark) {
    datasets.push({ data: [{ x: p.mark[0], y: p.mark[1] }], showLine: false, pointStyle: 'triangle', rotation: 180, pointRadius: 5, backgroundColor: '#000', borderColor: '#000', borderWidth: 1, order: 1, clip: false });
  }

  new Chart(cv, {
    type: 'line',
    data: { datasets },
    options: {
      responsive: false,
      animation: false,
      devicePixelRatio: 1,
      events: [],
      layout: { padding: { top: PT, bottom: p.axis ? 0 : PB, left: 0, right: PR } },
      plugins: {
        legend: { display: false },
        tooltip: { enabled: false },
        frame: { label: p.label, labelDy: p.labelDy }
      },
      scales: {
        x: {
          type: 'linear', min: FREQ_MIN, max: FREQ_MAX,
          display: !!p.axis,
          grid: { display: false, drawTicks: false }, border: { display: false },
          ticks: { stepSize: 1, autoSkip: false, maxRotation: 0, padding: 4, color: TEXT_COLOR, font: { family: FONT, size: 12 } },
          title: { display: true, text: X_TITLE, color: '#111', font: { family: FONT, size: 17 }, padding: { top: 0, bottom: 0 } },
          afterFit(s) { s.height = p.axis ? XH : 0; }
        },
        y: {
          type: 'linear', min: 0, max: p.ymax,
          grid: { display: false, drawTicks: false }, border: { display: false },
          ticks: {
            stepSize: 5, includeBounds: false, padding: 4, color: TEXT_COLOR, font: { family: FONT, size: 12 },
            callback: v => (v % 5 === 0 && v < p.ymax - 0.9) ? String(v) : ''
          },
          afterFit(s) { s.width = YW; }
        }
      }
    },
    plugins: [framePlugin]
  });
}

document.addEventListener('DOMContentLoaded', () => {
  const fig = document.getElementById('fig');
  PANELS.forEach(p => drawPanel(p, fig));
});
</script>
</body>
</html>
